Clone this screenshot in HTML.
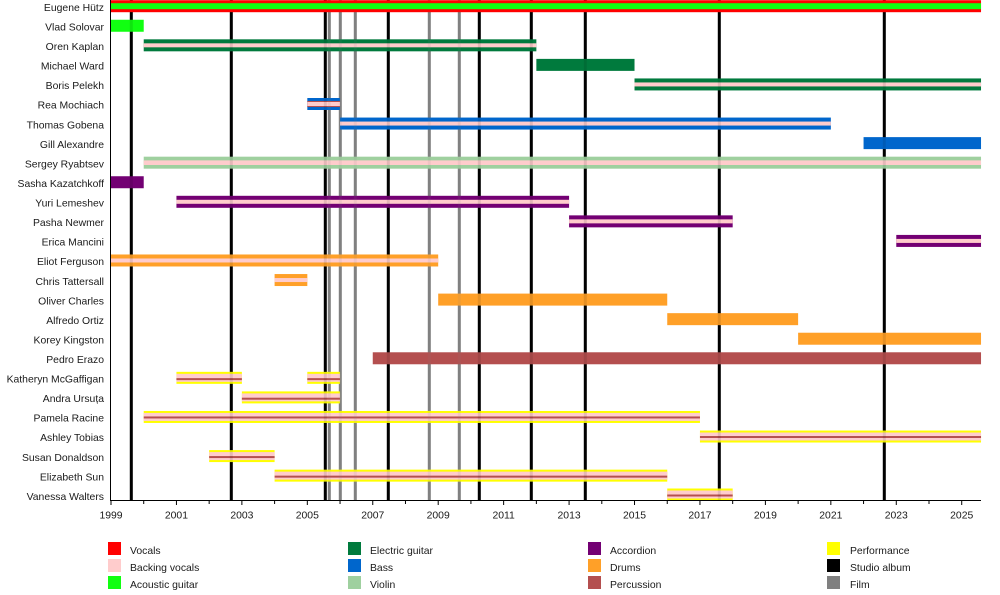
<!DOCTYPE html>
<html><head><meta charset="utf-8"><style>
html,body{margin:0;padding:0;background:#fff;}
svg{display:block;}
text{font-family:"Liberation Sans",Arial,sans-serif;font-size:10.4px;fill:#1a1a1a;}
</style></head><body>
<svg width="1000" height="595" viewBox="0 0 1000 595" xmlns="http://www.w3.org/2000/svg">
<rect x="0" y="0" width="1000" height="595" fill="#fff"/>
<!-- event lines -->
<g id="lines">
<rect x="129.8" y="0" width="3" height="500" fill="#000"/>
<rect x="229.8" y="0" width="3" height="500" fill="#000"/>
<rect x="323.8" y="0" width="3" height="500" fill="#000"/>
<rect x="386.8" y="0" width="3" height="500" fill="#000"/>
<rect x="477.8" y="0" width="3" height="500" fill="#000"/>
<rect x="529.8" y="0" width="3" height="500" fill="#000"/>
<rect x="583.8" y="0" width="3" height="500" fill="#000"/>
<rect x="717.8" y="0" width="3" height="500" fill="#000"/>
<rect x="882.8" y="0" width="3" height="500" fill="#000"/>
<rect x="327.8" y="0" width="3" height="500" fill="#808080"/>
<rect x="338.8" y="0" width="3" height="500" fill="#808080"/>
<rect x="353.8" y="0" width="3" height="500" fill="#808080"/>
<rect x="427.8" y="0" width="3" height="500" fill="#808080"/>
<rect x="457.8" y="0" width="3" height="500" fill="#808080"/>
</g>
<!-- bars: x in years since 1999 -->
<g>
<!-- 0 Eugene -->
<g transform="translate(111,6.2) scale(32.72,1)">
<rect x="0" y="-6" width="26.59" height="12" fill="#ff0000"/>
<rect x="0" y="-3" width="26.59" height="6" fill="#11ff11"/>
</g>
<!-- 1 Vlad -->
<g transform="translate(111,25.76) scale(32.72,1)">
<rect x="0" y="-6" width="1" height="12" fill="#11ff11"/>
</g>
<!-- 2 Oren -->
<g transform="translate(111,45.32) scale(32.72,1)">
<rect x="1" y="-6" width="12" height="12" fill="#007a3d"/>
<rect x="1" y="-2" width="12" height="4" fill="#ffcccc"/>
</g>
<!-- 3 Michael -->
<g transform="translate(111,64.88) scale(32.72,1)">
<rect x="13" y="-6" width="3" height="12" fill="#007a3d"/>
</g>
<!-- 4 Boris -->
<g transform="translate(111,84.44) scale(32.72,1)">
<rect x="16" y="-6" width="10.59" height="12" fill="#007a3d"/>
<rect x="16" y="-2" width="10.59" height="4" fill="#ffcccc"/>
</g>
<!-- 5 Rea -->
<g transform="translate(111,104) scale(32.72,1)">
<rect x="6" y="-6" width="1" height="12" fill="#0066cc"/>
<rect x="6" y="-3" width="1" height="6" fill="#b44f4f"/>
<rect x="6" y="-2" width="1" height="4" fill="#ffcccc"/>
</g>
<!-- 6 Thomas -->
<g transform="translate(111,123.56) scale(32.72,1)">
<rect x="7" y="-6" width="15" height="12" fill="#0066cc"/>
<rect x="7" y="-2" width="15" height="4" fill="#ffcccc"/>
</g>
<!-- 7 Gill -->
<g transform="translate(111,143.12) scale(32.72,1)">
<rect x="23" y="-6" width="3.59" height="12" fill="#0066cc"/>
</g>
<!-- 8 Sergey -->
<g transform="translate(111,162.68) scale(32.72,1)">
<rect x="1" y="-6" width="25.59" height="12" fill="#9fd09f"/>
<rect x="1" y="-2.3" width="25.59" height="4.6" fill="#ffcccc"/>
</g>
<!-- 9 Sasha -->
<g transform="translate(111,182.24) scale(32.72,1)">
<rect x="0" y="-6" width="1" height="12" fill="#730073"/>
</g>
<!-- 10 Yuri -->
<g transform="translate(111,201.8) scale(32.72,1)">
<rect x="2" y="-6" width="12" height="12" fill="#730073"/>
<rect x="2" y="-2" width="12" height="4" fill="#ffcccc"/>
</g>
<!-- 11 Pasha -->
<g transform="translate(111,221.36) scale(32.72,1)">
<rect x="14" y="-6" width="5" height="12" fill="#730073"/>
<rect x="14" y="-2" width="5" height="4" fill="#ffcccc"/>
</g>
<!-- 12 Erica -->
<g transform="translate(111,240.92) scale(32.72,1)">
<rect x="24" y="-6" width="2.59" height="12" fill="#730073"/>
<rect x="24" y="-2" width="2.59" height="4" fill="#ffcccc"/>
</g>
<!-- 13 Eliot -->
<g transform="translate(111,260.48) scale(32.72,1)">
<rect x="0" y="-6" width="10" height="12" fill="#ffa028"/>
<rect x="0" y="-2" width="10" height="4" fill="#ffcccc"/>
</g>
<!-- 14 Chris -->
<g transform="translate(111,280.04) scale(32.72,1)">
<rect x="5" y="-6" width="1" height="12" fill="#ffa028"/>
<rect x="5" y="-2" width="1" height="4" fill="#ffcccc"/>
</g>
<!-- 15 Oliver -->
<g transform="translate(111,299.6) scale(32.72,1)">
<rect x="10" y="-6" width="7" height="12" fill="#ffa028"/>
</g>
<!-- 16 Alfredo -->
<g transform="translate(111,319.16) scale(32.72,1)">
<rect x="17" y="-6" width="4" height="12" fill="#ffa028"/>
</g>
<!-- 17 Korey -->
<g transform="translate(111,338.72) scale(32.72,1)">
<rect x="21" y="-6" width="5.59" height="12" fill="#ffa028"/>
</g>
<!-- 18 Pedro -->
<g transform="translate(111,358.28) scale(32.72,1)">
<rect x="8" y="-6" width="18.59" height="12" fill="#b44f4f"/>
</g>
<!-- 19 Katheryn -->
<g transform="translate(111,377.84) scale(32.72,1)">
<rect x="2" y="-6" width="2" height="12" fill="#ffff00"/>
<rect x="2" y="-4" width="2" height="8" fill="#ffcccc"/>
<rect x="2" y="0.3" width="2" height="2" fill="#b44f4f"/>
<rect x="6" y="-6" width="1" height="12" fill="#ffff00"/>
<rect x="6" y="-4" width="1" height="8" fill="#ffcccc"/>
<rect x="6" y="0.3" width="1" height="2" fill="#b44f4f"/>
</g>
<!-- 20 Andra -->
<g transform="translate(111,397.4) scale(32.72,1)">
<rect x="4" y="-6" width="3" height="12" fill="#ffff00"/>
<rect x="4" y="-4" width="3" height="8" fill="#ffcccc"/>
<rect x="4" y="0.3" width="3" height="2" fill="#b44f4f"/>
</g>
<!-- 21 Pamela -->
<g transform="translate(111,416.96) scale(32.72,1)">
<rect x="1" y="-6" width="17" height="12" fill="#ffff00"/>
<rect x="1" y="-4" width="17" height="8" fill="#ffcccc"/>
<rect x="1" y="-0.5" width="17" height="2" fill="#b44f4f"/>
</g>
<!-- 22 Ashley -->
<g transform="translate(111,436.52) scale(32.72,1)">
<rect x="18" y="-6" width="8.59" height="12" fill="#ffff00"/>
<rect x="18" y="-4" width="8.59" height="8" fill="#ffcccc"/>
<rect x="18" y="-0.5" width="8.59" height="2" fill="#b44f4f"/>
</g>
<!-- 23 Susan -->
<g transform="translate(111,456.08) scale(32.72,1)">
<rect x="3" y="-6" width="2" height="12" fill="#ffff00"/>
<rect x="3" y="-4" width="2" height="8" fill="#ffcccc"/>
<rect x="3" y="0" width="2" height="2" fill="#b44f4f"/>
</g>
<!-- 24 Elizabeth -->
<g transform="translate(111,475.64) scale(32.72,1)">
<rect x="5" y="-6" width="12" height="12" fill="#ffff00"/>
<rect x="5" y="-4" width="12" height="8" fill="#ffcccc"/>
<rect x="5" y="0" width="12" height="2" fill="#b44f4f"/>
</g>
<!-- 25 Vanessa -->
<g transform="translate(111,494.5) scale(32.72,1)">
<rect x="17" y="-6" width="2" height="12" fill="#ffff00"/>
<rect x="17" y="-4" width="2" height="8" fill="#ffcccc"/>
<rect x="17" y="0" width="2" height="2" fill="#b44f4f"/>
</g>
</g>
<!-- faint line overlay -->
<g opacity="0.1">
<rect x="129.8" y="12" width="3" height="488" fill="#000"/>
<rect x="229.8" y="12" width="3" height="488" fill="#000"/>
<rect x="323.8" y="12" width="3" height="488" fill="#000"/>
<rect x="386.8" y="12" width="3" height="488" fill="#000"/>
<rect x="477.8" y="12" width="3" height="488" fill="#000"/>
<rect x="529.8" y="12" width="3" height="488" fill="#000"/>
<rect x="583.8" y="12" width="3" height="488" fill="#000"/>
<rect x="717.8" y="12" width="3" height="488" fill="#000"/>
<rect x="882.8" y="12" width="3" height="488" fill="#000"/>
<rect x="327.8" y="12" width="3" height="488" fill="#808080"/>
<rect x="338.8" y="12" width="3" height="488" fill="#808080"/>
<rect x="353.8" y="12" width="3" height="488" fill="#808080"/>
<rect x="427.8" y="12" width="3" height="488" fill="#808080"/>
<rect x="457.8" y="12" width="3" height="488" fill="#808080"/>
</g>
<!-- axes -->
<line x1="110.5" y1="0" x2="110.5" y2="500.5" stroke="#000" stroke-width="1"/>
<line x1="110" y1="500.5" x2="981" y2="500.5" stroke="#000" stroke-width="1"/>
<g stroke="#000" stroke-width="1">
<line x1="111" y1="500" x2="111" y2="505"/>
<line x1="143.72" y1="500" x2="143.72" y2="504"/>
<line x1="176.44" y1="500" x2="176.44" y2="505"/>
<line x1="209.16" y1="500" x2="209.16" y2="504"/>
<line x1="241.88" y1="500" x2="241.88" y2="505"/>
<line x1="274.6" y1="500" x2="274.6" y2="504"/>
<line x1="307.32" y1="500" x2="307.32" y2="505"/>
<line x1="340.04" y1="500" x2="340.04" y2="504"/>
<line x1="372.76" y1="500" x2="372.76" y2="505"/>
<line x1="405.48" y1="500" x2="405.48" y2="504"/>
<line x1="438.2" y1="500" x2="438.2" y2="505"/>
<line x1="470.92" y1="500" x2="470.92" y2="504"/>
<line x1="503.64" y1="500" x2="503.64" y2="505"/>
<line x1="536.36" y1="500" x2="536.36" y2="504"/>
<line x1="569.08" y1="500" x2="569.08" y2="505"/>
<line x1="601.8" y1="500" x2="601.8" y2="504"/>
<line x1="634.52" y1="500" x2="634.52" y2="505"/>
<line x1="667.24" y1="500" x2="667.24" y2="504"/>
<line x1="699.96" y1="500" x2="699.96" y2="505"/>
<line x1="732.68" y1="500" x2="732.68" y2="504"/>
<line x1="765.4" y1="500" x2="765.4" y2="505"/>
<line x1="798.12" y1="500" x2="798.12" y2="504"/>
<line x1="830.84" y1="500" x2="830.84" y2="505"/>
<line x1="863.56" y1="500" x2="863.56" y2="504"/>
<line x1="896.28" y1="500" x2="896.28" y2="505"/>
<line x1="929" y1="500" x2="929" y2="504"/>
<line x1="961.72" y1="500" x2="961.72" y2="505"/>
</g>
<g text-anchor="middle">
<text x="111" y="518.5">1999</text>
<text x="176.44" y="518.5">2001</text>
<text x="241.88" y="518.5">2003</text>
<text x="307.32" y="518.5">2005</text>
<text x="372.76" y="518.5">2007</text>
<text x="438.2" y="518.5">2009</text>
<text x="503.64" y="518.5">2011</text>
<text x="569.08" y="518.5">2013</text>
<text x="634.52" y="518.5">2015</text>
<text x="699.96" y="518.5">2017</text>
<text x="765.4" y="518.5">2019</text>
<text x="830.84" y="518.5">2021</text>
<text x="896.28" y="518.5">2023</text>
<text x="961.72" y="518.5">2025</text>
</g>
<!-- row labels -->
<g text-anchor="end">
<text x="104" y="11">Eugene Hütz</text>
<text x="104" y="30.5">Vlad Solovar</text>
<text x="104" y="50">Oren Kaplan</text>
<text x="104" y="69.6">Michael Ward</text>
<text x="104" y="89.2">Boris Pelekh</text>
<text x="104" y="108.7">Rea Mochiach</text>
<text x="104" y="128.3">Thomas Gobena</text>
<text x="104" y="147.8">Gill Alexandre</text>
<text x="104" y="167.4">Sergey Ryabtsev</text>
<text x="104" y="187">Sasha Kazatchkoff</text>
<text x="104" y="206.5">Yuri Lemeshev</text>
<text x="104" y="226.1">Pasha Newmer</text>
<text x="104" y="245.6">Erica Mancini</text>
<text x="104" y="265.2">Eliot Ferguson</text>
<text x="104" y="284.8">Chris Tattersall</text>
<text x="104" y="304.3">Oliver Charles</text>
<text x="104" y="323.9">Alfredo Ortiz</text>
<text x="104" y="343.4">Korey Kingston</text>
<text x="104" y="363">Pedro Erazo</text>
<text x="104" y="382.6">Katheryn McGaffigan</text>
<text x="104" y="402.1">Andra Ursuța</text>
<text x="104" y="421.7">Pamela Racine</text>
<text x="104" y="441.2">Ashley Tobias</text>
<text x="104" y="460.8">Susan Donaldson</text>
<text x="104" y="480.4">Elizabeth Sun</text>
<text x="104" y="499.9">Vanessa Walters</text>
</g>
<!-- legend -->
<g>
<rect x="108" y="542" width="13" height="13" fill="#ff0000"/>
<rect x="108" y="559" width="13" height="13" fill="#ffcccc"/>
<rect x="108" y="576" width="13" height="13" fill="#11ff11"/>
<text x="130" y="554">Vocals</text>
<text x="130" y="571">Backing vocals</text>
<text x="130" y="588">Acoustic guitar</text>

<rect x="348" y="542" width="13" height="13" fill="#007a3d"/>
<rect x="348" y="559" width="13" height="13" fill="#0066cc"/>
<rect x="348" y="576" width="13" height="13" fill="#9fd09f"/>
<text x="370" y="554">Electric guitar</text>
<text x="370" y="571">Bass</text>
<text x="370" y="588">Violin</text>

<rect x="588" y="542" width="13" height="13" fill="#730073"/>
<rect x="588" y="559" width="13" height="13" fill="#ffa028"/>
<rect x="588" y="576" width="13" height="13" fill="#b44f4f"/>
<text x="610" y="554">Accordion</text>
<text x="610" y="571">Drums</text>
<text x="610" y="588">Percussion</text>

<rect x="827" y="542" width="13" height="13" fill="#ffff00"/>
<rect x="827" y="559" width="13" height="13" fill="#000000"/>
<rect x="827" y="576" width="13" height="13" fill="#808080"/>
<text x="850" y="554">Performance</text>
<text x="850" y="571">Studio album</text>
<text x="850" y="588">Film</text>
</g>
</svg>
</body></html>
